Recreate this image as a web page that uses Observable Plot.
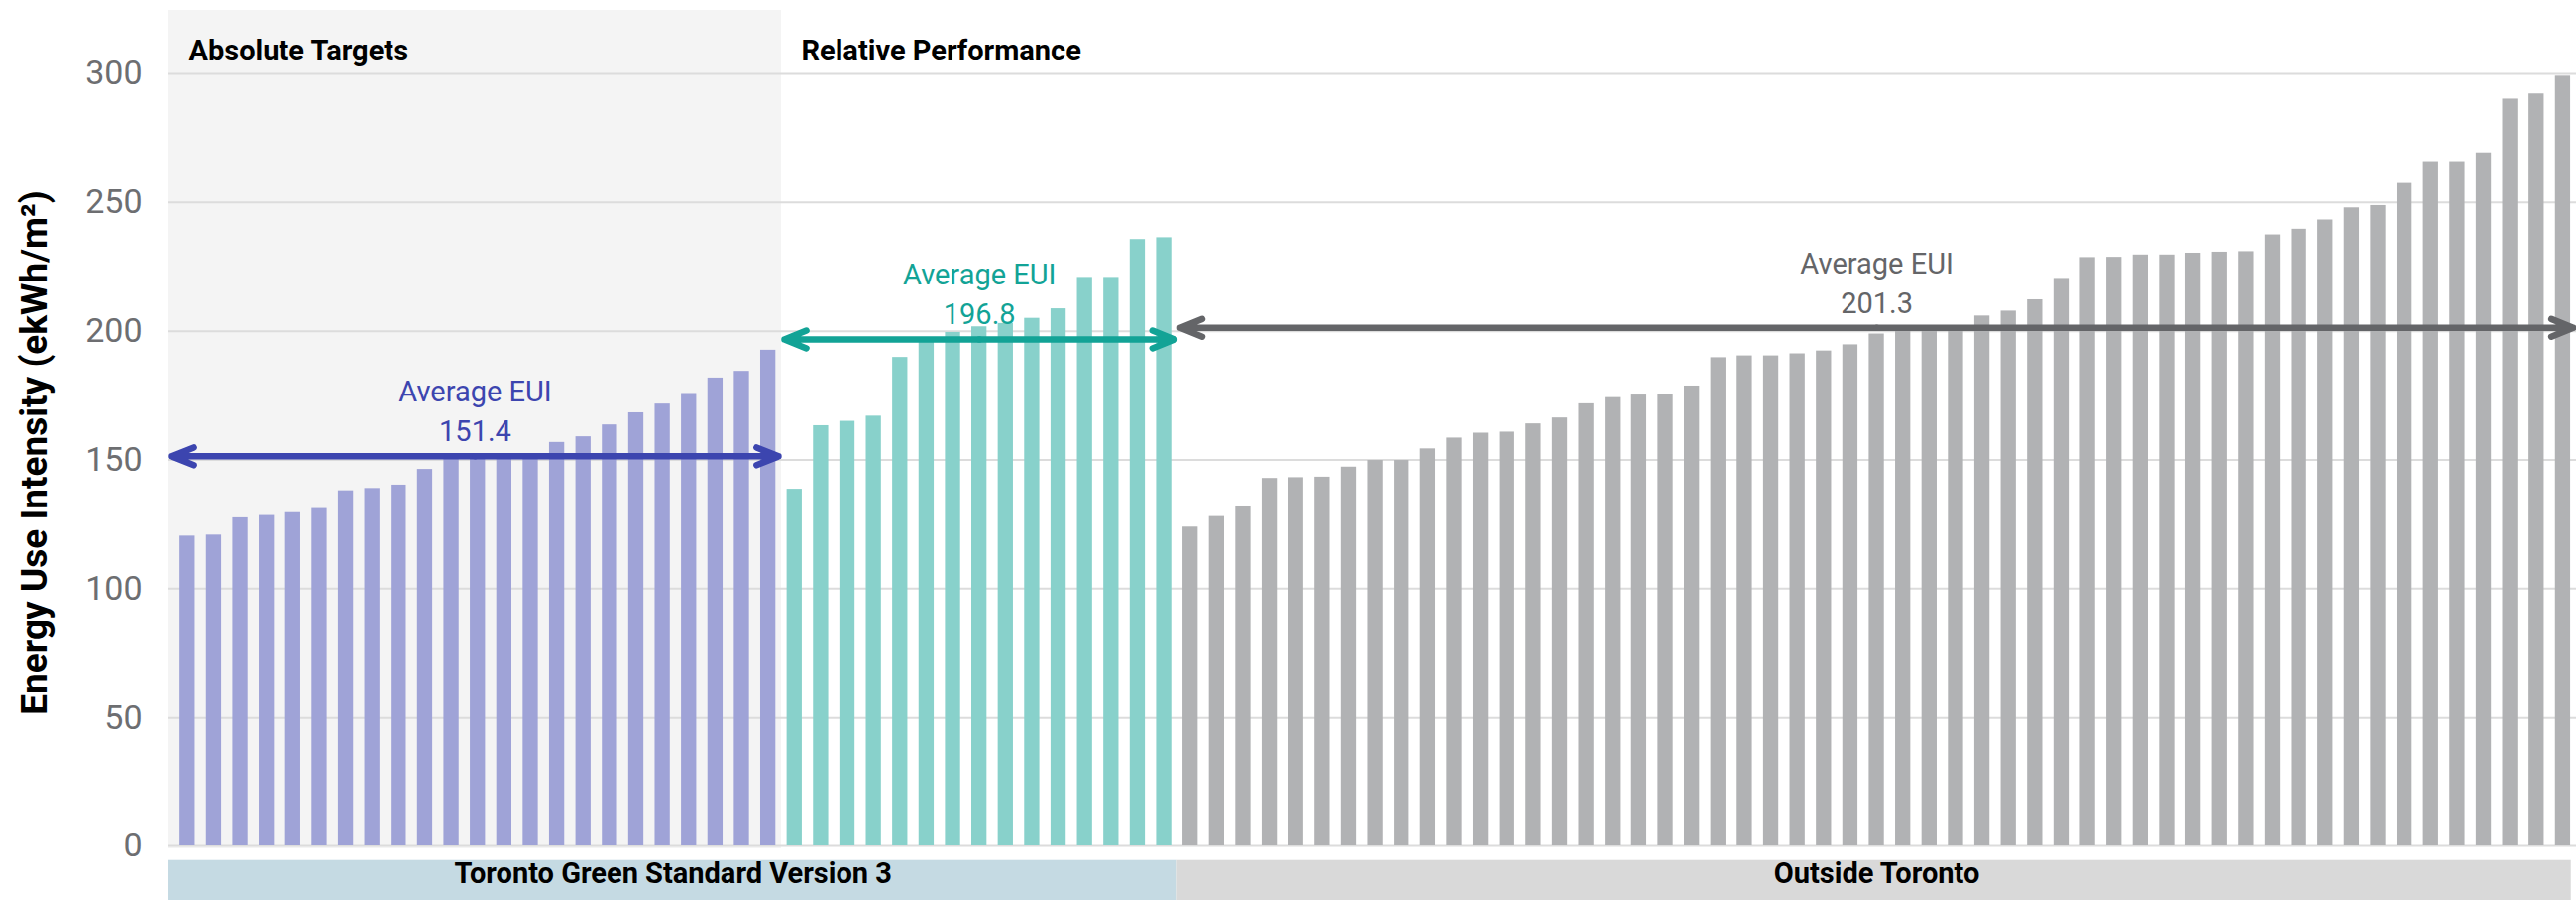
<!DOCTYPE html>
<html>
<head>
<meta charset="utf-8">
<script src="https://cdn.jsdelivr.net/npm/d3@7"></script>
<script src="https://cdn.jsdelivr.net/npm/@observablehq/plot@0.6"></script>
<style>
  html, body { margin: 0; padding: 0; background: #fff; }
  #chart svg { display: block; }
</style>
</head>
<body>
<div id="chart"></div>
<script>
// ---- Data ----
const absoluteTargets = [120.4, 120.8, 127.5, 128.4, 129.5, 131.1, 138.0, 138.9, 140.2, 146.3, 150.5, 151.0, 151.5, 152.0, 156.8, 159.0, 163.6, 168.3, 171.7, 175.8, 181.8, 184.4, 192.6];
const relativePerformance = [138.6, 163.3, 165.0, 167.0, 189.8, 196.5, 199.5, 201.7, 203.0, 205.0, 208.7, 220.9, 220.9, 235.6, 236.3];
const outsideToronto = [123.9, 128.0, 132.1, 142.8, 143.1, 143.3, 147.2, 149.8, 149.8, 154.3, 158.5, 160.4, 160.8, 164.0, 166.3, 171.8, 174.2, 175.2, 175.6, 178.7, 189.7, 190.4, 190.4, 191.2, 192.3, 194.7, 198.9, 200.0, 200.0, 200.5, 205.9, 207.8, 212.2, 220.5, 228.6, 228.7, 229.6, 229.6, 230.3, 230.7, 230.9, 237.4, 239.6, 243.2, 247.9, 248.8, 257.4, 265.9, 265.9, 269.3, 290.2, 292.2, 299.1];
const seriesNames = ["Absolute Targets", "Relative Performance", "Outside Toronto"];
const averageEUI = [151.4, 196.8, 201.3];
const averageLabel = "Average EUI";
const headerLabels = ["Absolute Targets", "Relative Performance"];
const bandLabels = ["Toronto Green Standard Version 3", "Outside Toronto"];
const bandSeries = [[0, 1], [2]];
const yTicks = [0, 50, 100, 150, 200, 250, 300];
const yTitle = "Energy Use Intensity (ekWh/m²)";

// ---- Styles ----
const barColors = ["#9FA3D7", "#88D1CB", "#B1B2B4"];
const accentColors = ["#3C45AF", "#12A396", "#646568"];
const bandColors = ["#C5DAE3", "#D9D9D9"];
const panelColor = "#F4F4F4";
const gridColor = "#DCDCDC";
const font = "Roboto, 'Noto Sans', sans-serif";

// ---- Build tables ----
const allSeries = [absoluteTargets, relativePerformance, outsideToronto];
const rows = [];
let idx = 0;
const segments = allSeries.map((vals, s) => {
  const start = idx;
  vals.forEach(v => rows.push({i: idx++, value: v, series: s}));
  return {series: s, name: seriesNames[s], start, end: idx - 1, avg: averageEUI[s]};
});
const xMin = -0.706, xMax = 90.51;
segments.forEach((seg, s) => {
  seg.x1 = s === 0 ? xMin : seg.start - 0.5;
  seg.x2 = s === segments.length - 1 ? xMax - 0.01 : seg.end + 0.5;
  seg.mid = (seg.x1 + seg.x2) / 2;
});
const headers = headerLabels.map((label, k) => ({label, x1: segments[k].x1, x2: segments[k].x2}));
const bands = bandLabels.map((label, k) => {
  const segs = bandSeries[k].map(s => segments[s]);
  const x1 = segs[0].x1, x2 = segs[segs.length - 1].x2;
  return {label, x1, x2, mid: (x1 + x2) / 2};
});

const halfBar = 0.2875;
const marks = [];
// shaded panel behind the "Absolute Targets" bars
marks.push(Plot.rect([headers[0]], {x1: "x1", x2: "x2", fill: panelColor, insetTop: -64, insetBottom: -3}));
// gridlines
marks.push(Plot.ruleY(yTicks, {stroke: gridColor, strokeWidth: 2}));
// bars
segments.forEach((seg, s) => {
  marks.push(Plot.rect(rows.filter(r => r.series === s), {
    x1: d => d.i - halfBar, x2: d => d.i + halfBar, y1: 0, y2: "value", fill: barColors[s]
  }));
});
// average arrows (double-headed: two arrows from the middle outwards) and labels
segments.forEach((seg, s) => {
  const arrowData = [{a: seg.mid, b: seg.x1, y: seg.avg}, {a: seg.mid, b: seg.x2, y: seg.avg}];
  marks.push(Plot.arrow(arrowData, {
    x1: "a", x2: "b", y1: "y", y2: "y", stroke: accentColors[s], strokeWidth: 6.5,
    headLength: 5.5, headAngle: 44, insetEnd: 3
  }));
  marks.push(Plot.text([seg], {
    x: "mid", y: "avg", text: d => `${averageLabel}\n${d.avg.toFixed(1)}`,
    lineAnchor: "bottom", dy: -15, lineHeight: 1.38, fontSize: 29, fontFamily: font,
    fill: accentColors[s]
  }));
});
// header labels above the plot
marks.push(Plot.text(headers, {
  x: "x1", text: "label", frameAnchor: "top", dy: -34, dx: 20, textAnchor: "start",
  fontSize: 29, fontWeight: "bold", fontFamily: font, fill: "#000"
}));
// bottom bands
bands.forEach((b, k) => {
  marks.push(Plot.rect([b], {x1: "x1", x2: "x2", fill: bandColors[k], insetTop: 793.7, insetBottom: -55, insetRight: k === bands.length - 1 ? 5 : 0}));
});
marks.push(Plot.text(bands, {
  x: "mid", text: "label", frameAnchor: "bottom", dy: 37,
  fontSize: 29, fontWeight: "bold", fontFamily: font, fill: "#000"
}));
// y axis
marks.push(Plot.axisY(yTicks, {
  tickSize: 0, tickPadding: 27, fontSize: 34, fontFamily: font, fill: "#6D6E71", label: null
}));
marks.push(Plot.text([yTitle], {
  frameAnchor: "left", textAnchor: "middle", lineAnchor: "middle", rotate: -90, dx: -135.5, dy: -7.5,
  fontSize: 37, fontWeight: "bold", fontFamily: font, fill: "#000"
}));

const chart = Plot.plot({
  width: 2599,
  height: 908,
  marginLeft: 170,
  marginRight: 0,
  marginTop: 74,
  marginBottom: 55,
  x: {type: "linear", domain: [xMin, xMax], axis: null},
  y: {domain: [0, 300]},
  style: {fontFamily: font, background: "#fff", overflow: "visible"},
  marks
});
document.getElementById("chart").appendChild(chart);
</script>
</body>
</html>
